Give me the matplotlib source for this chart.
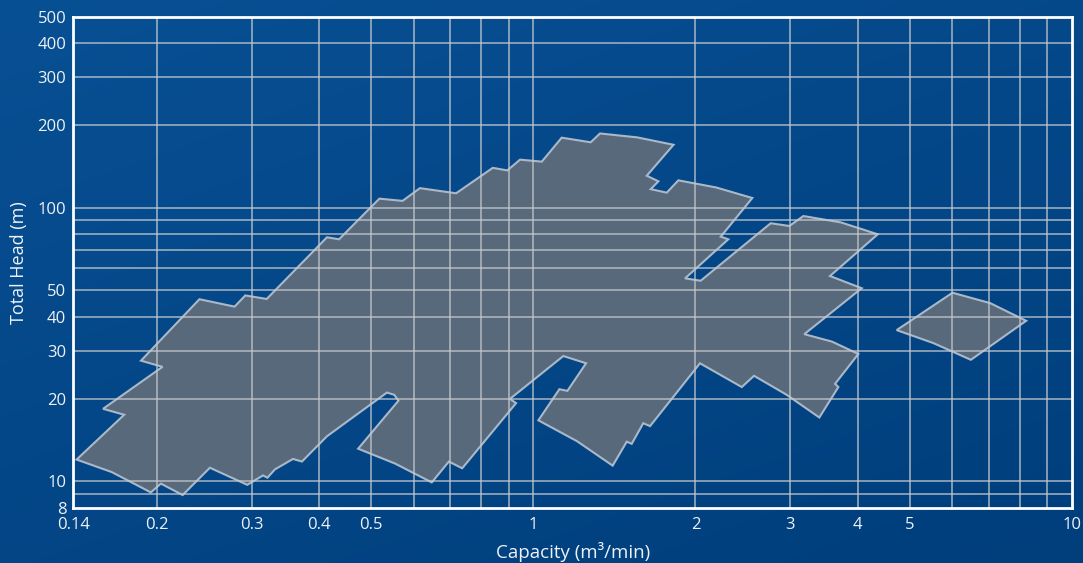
import numpy as np
import matplotlib
matplotlib.use("Agg")
import matplotlib.pyplot as plt
from matplotlib.ticker import FixedLocator, FixedFormatter, NullLocator

plt.rcParams['font.family'] = ['Open Sans', 'DejaVu Sans']

# ---- data: outline of the main performance region (capacity m3/min, head m)
main_capacity = [0.142, 0.174, 0.159, 0.205, 0.187, 0.240, 0.279, 0.292, 0.320, 0.414,
                 0.436, 0.518, 0.572, 0.616, 0.719, 0.841, 0.895, 0.945, 1.037, 1.129,
                 1.278, 1.330, 1.558, 1.821, 1.624, 1.707, 1.652, 1.769, 1.859, 2.184,
                 2.550, 2.228, 2.301, 1.913, 2.045, 2.759, 2.988, 3.172, 3.726, 4.359,
                 3.554, 4.070, 3.185, 3.585, 4.012, 3.632, 3.684, 3.396, 2.954, 2.569,
                 2.438, 2.039, 1.647, 1.600, 1.523, 1.491, 1.404, 1.206, 1.022, 1.118,
                 1.157, 1.253, 1.137, 0.905, 0.929, 0.738, 0.697, 0.648, 0.554, 0.473,
                 0.562, 0.552, 0.535, 0.477, 0.414, 0.372, 0.358, 0.3315, 0.321, 0.315,
                 0.2945, 0.251, 0.2234, 0.2036, 0.195, 0.165]
main_head = [12.0, 17.5, 18.4, 26.2, 27.6, 46.3, 43.5, 47.8, 46.4, 78.0,
             76.7, 108.0, 106.0, 118.0, 113.0, 140.0, 137.0, 150.0, 147.5, 180.5,
             173.6, 187.0, 181.0, 170.0, 131.0, 125.0, 117.0, 113.6, 126.0, 118.7,
             108.6, 78.4, 76.7, 55.2, 54.1, 87.8, 85.8, 93.3, 88.4, 80.0,
             56.3, 50.8, 34.5, 32.4, 29.2, 22.7, 22.1, 17.1, 20.7, 24.3,
             22.1, 27.0, 15.9, 16.3, 13.7, 13.95, 11.4, 14.0, 16.7, 21.7,
             21.4, 27.0, 28.7, 20.0, 19.3, 11.15, 11.8, 9.9, 11.6, 13.15,
             19.7, 20.7, 21.1, 17.9, 14.6, 11.8, 12.06, 11.05, 10.3, 10.5,
             9.7, 11.2, 8.9, 9.8, 9.1, 10.8]

# ---- data: separate high-capacity region
small_capacity = [4.727, 6.0, 7.05, 8.22, 6.49, 5.53]
small_head = [35.7, 48.9, 44.8, 38.6, 27.8, 32.0]

# ---- axes ticks / grid
x_tick_values = [0.14, 0.2, 0.3, 0.4, 0.5, 1, 2, 3, 4, 5, 10]
x_tick_labels = ['0.14', '0.2', '0.3', '0.4', '0.5', '1', '2', '3', '4', '5', '10']
x_grid_values = [0.2, 0.3, 0.4, 0.5, 0.6, 0.7, 0.8, 0.9, 1, 2, 3, 4, 5, 6, 7, 8, 9]
y_tick_values = [8, 10, 20, 30, 40, 50, 100, 200, 300, 400, 500]
y_tick_labels = ['8', '10', '20', '30', '40', '50', '100', '200', '300', '400', '500']
y_grid_values = [9, 10, 20, 30, 40, 50, 60, 70, 80, 90, 100, 200, 300, 400]

x_label = 'Capacity (m³/min)'
y_label = 'Total Head (m)'

W, H = 1083, 563
fig = plt.figure(figsize=(W / 100, H / 100), dpi=100)

# background gradient
bg = fig.add_axes([0, 0, 1, 1], zorder=-10)
bg.set_axis_off()
gy, gx = np.mgrid[0:1:200j, 0:1:200j]
t = 0.6 * gy + 0.4 * gx
top = np.array([8, 80, 148]) / 255.0
bot = np.array([0, 62, 124]) / 255.0
img = top[None, None, :] * (1 - t[..., None]) + bot[None, None, :] * t[..., None]
bg.imshow(img, aspect='auto', extent=[0, 1, 0, 1], origin='upper')

ax = fig.add_axes([73.3 / W, 1 - 507.7 / H, (1072 - 73.3) / W, (507.7 - 16.7) / H])
ax.patch.set_alpha(0)
ax.set_xscale('log')
ax.set_yscale('log')
ax.set_xlim(0.14, 10)
ax.set_ylim(8, 500)

fill_color = '#58697b'
edge_color = '#a9b9c9'
ax.fill(main_capacity, main_head, facecolor=fill_color, edgecolor=edge_color,
        linewidth=1.5, zorder=1, joinstyle='miter')
ax.fill(small_capacity, small_head, facecolor=fill_color, edgecolor=edge_color,
        linewidth=1.5, zorder=1, joinstyle='miter')

grid_color = '#c4c8cc'
for xv in x_grid_values:
    ax.axvline(xv, color=grid_color, linewidth=1.1, alpha=0.85, zorder=2)
for yv in y_grid_values:
    ax.axhline(yv, color=grid_color, linewidth=1.1, alpha=0.85, zorder=2)

ax.xaxis.set_major_locator(FixedLocator(x_tick_values))
ax.xaxis.set_major_formatter(FixedFormatter(x_tick_labels))
ax.xaxis.set_minor_locator(NullLocator())
ax.yaxis.set_major_locator(FixedLocator(y_tick_values))
ax.yaxis.set_major_formatter(FixedFormatter(y_tick_labels))
ax.yaxis.set_minor_locator(NullLocator())

text_color = '#eef2f6'
ax.tick_params(axis='both', length=0, labelsize=12, colors=text_color)
ax.tick_params(axis='x', pad=7)
ax.tick_params(axis='y', pad=5)

for s in ax.spines.values():
    s.set_color('white')
    s.set_linewidth(2)
    s.set_zorder(5)

ax.set_xlabel(x_label, color=text_color, fontsize=13.5, labelpad=6)
ax.set_ylabel(y_label, color=text_color, fontsize=13, labelpad=7)

fig.savefig('out.png', dpi=100)
